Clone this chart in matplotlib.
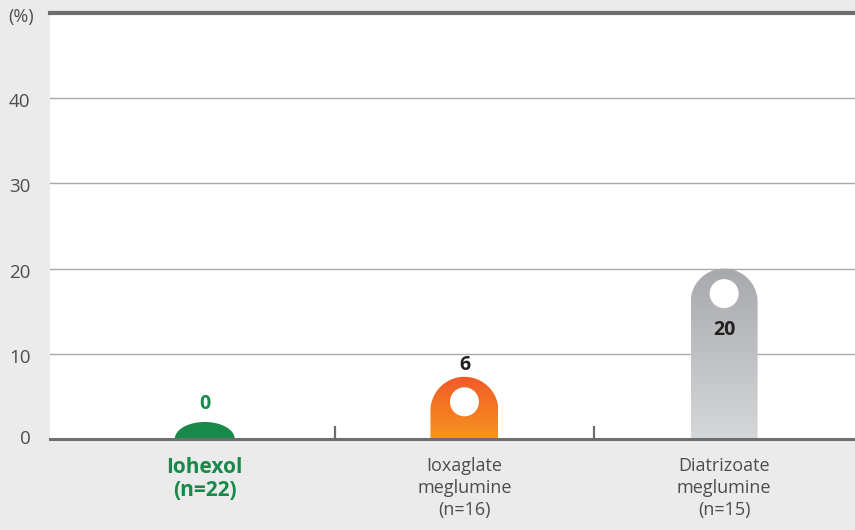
import matplotlib.pyplot as plt
import numpy as np
from matplotlib.path import Path
from matplotlib.patches import PathPatch, Ellipse
from matplotlib.transforms import ScaledTranslation

plt.rcParams['font.family'] = ['Open Sans', 'DejaVu Sans']

categories = ['Iohexol\n(n=22)', 'Ioxaglate\nmeglumine\n(n=16)', 'Diatrizoate\nmeglumine\n(n=15)']
values = [0, 6, 20]
# visible tag heights as drawn in the picture (the designer gave small bars a minimum cap)
tag_tops = [2.0, 7.3, 20.0]
y_ticks = [0, 10, 20, 30, 40]

BG = '#ebebeb'
DARK = '#6d6e70'
TEXT = '#4d4d4d'
GREEN = '#178a4a'

fig = plt.figure(figsize=(8.55, 5.3), dpi=100, facecolor=BG)
ax = fig.add_axes([50 / 855, 91 / 530, 805 / 855, 426 / 530])
ax.set_facecolor('white')
ax.set_xlim(-0.596, 2.504)
ax.set_ylim(0, 50)

# pixels per data unit, for round caps in screen space
px_x = 805 / 3.1
px_y = 426 / 50

for y in [10, 20, 30, 40]:
    ax.axhline(y, color='#a7a9ac', lw=1, zorder=1)
ax.axhline(50, color=DARK, lw=3, zorder=3, clip_on=False)
for s in ['left', 'right', 'top']:
    ax.spines[s].set_visible(False)
ax.spines['bottom'].set_color(DARK)
ax.spines['bottom'].set_linewidth(2.2)
ax.spines['bottom'].set_zorder(5)

for xt in [0.5, 1.5]:
    ax.plot([xt, xt], [0, 1.5], color=DARK, lw=1.6, zorder=4, solid_capstyle='butt')


def tag_patch(xc, w, top, ry):
    ry = min(ry, top)
    th = np.linspace(0, np.pi, 60)
    xs = np.concatenate([[xc + w / 2], xc + w / 2 * np.cos(th), [xc - w / 2]])
    ys = np.concatenate([[0], top - ry + ry * np.sin(th), [0]])
    verts = list(zip(xs, ys)) + [(xc + w / 2, 0)]
    codes = [Path.MOVETO] + [Path.LINETO] * (len(verts) - 2) + [Path.CLOSEPOLY]
    return PathPatch(Path(verts, codes), lw=0)


widths = [60 / px_x, 68 / px_x, 67 / px_x]
grads = [None, ('#f15a29', '#f7941d'), ('#a7a9ac', '#d6d7d9')]

for i, (top, w, g) in enumerate(zip(tag_tops, widths, grads)):
    ry = (w / 2) * px_x / px_y
    p = tag_patch(i, w, top, ry)
    if g is None:
        p.set_facecolor(GREEN)
        p.set_zorder(2)
        ax.add_patch(p)
    else:
        p.set_facecolor('none')
        ax.add_patch(p)
        c0 = np.array(plt.matplotlib.colors.to_rgb(g[0]))
        c1 = np.array(plt.matplotlib.colors.to_rgb(g[1]))
        t = np.linspace(0, 1, 100)[:, None]
        img = (c0 * (1 - t) + c1 * t)[:, None, :]
        im = ax.imshow(img, extent=[i - w / 2, i + w / 2, 0, top], aspect='auto',
                       origin='upper', zorder=2)
        im.set_clip_path(p)
        ax.add_patch(Ellipse((i, top - 25 / px_y), 29 / px_x, 29 / px_y,
                             facecolor='white', lw=0, zorder=3))

ax.text(0, 2.9, str(values[0]), ha='center', va='bottom', fontsize=14,
        fontweight='bold', color=GREEN)
ax.text(1, 7.5, str(values[1]), ha='center', va='bottom', fontsize=14,
        fontweight='bold', color='#231f20')
ax.text(2, 12.8, str(values[2]), ha='center', va='center', fontsize=14,
        fontweight='bold', color='#231f20')

ax.set_xticks([0, 1, 2])
ax.set_xticklabels(categories, fontsize=13, color=TEXT, linespacing=1.3)
xl = ax.get_xticklabels()
xl[0].set_color(GREEN)
xl[0].set_fontweight('bold')
xl[0].set_fontsize(15)
xl[0].set_linespacing(1.15)
ax.tick_params(axis='x', length=0, pad=13)
ax.set_yticks(y_ticks)
ax.set_yticklabels([str(v) for v in y_ticks], fontsize=13.5, color=TEXT)
ax.tick_params(axis='y', length=0, pad=14)
shift = ScaledTranslation(0, -4 / 100, fig.dpi_scale_trans)
for v, lbl in zip(y_ticks, ax.get_yticklabels()):
    lbl.set_verticalalignment('center')
    if v > 0:
        lbl.set_transform(lbl.get_transform() + shift)

fig.text(21 / 855, 1 - 17 / 530, '(%)', ha='center', va='center', fontsize=13, color=TEXT)

fig.savefig('out.png', dpi=100, facecolor=BG)
